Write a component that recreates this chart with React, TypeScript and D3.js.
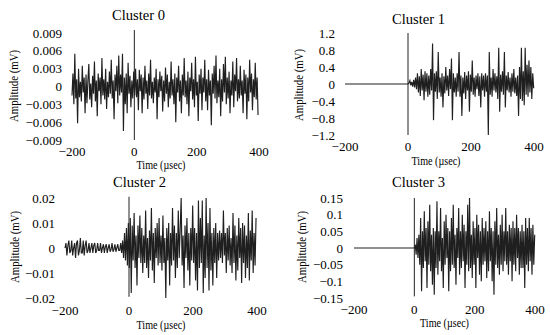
import React from 'react'
import * as d3 from 'd3'

// shared time axis
const timeTicks = [-200, 0, 200, 400]
const timeTickLabels = ['\u2212200', '0', '200', '400']

// Cluster 0: one sample every 3 µs from -200 µs, units of 1e-4 mV
const c0Start = -200
const c0Step = 3
const c0Unit = 1e-4
const c0Values = [
  -15, 22, -30, 55, -20, 12, -62, 30, -18, 8, -25, 35, -10, 15, -45, 20, -28, 10, 38, -22,
  5, -35, 18, -12, 42, -25, 10, -50, 22, -8, 15, -30, 48, -15, 12, -22, 30, -38, 8, -18,
  25, -12, 45, -20, 10, -55, 20, -8, 35, -28, 52, -15, 20, -10, 55, -75, 15, -30, 22, -45,
  40, -12, 18, -35, 10, -20, 25, -15, 30, -18, 12, -40, 28, -8, 20, -45, 15, -22, 35, -12,
  10, -38, 22, -15, 45, -20, 8, -28, 15, -10, 30, -55, 12, -18, 25, -8, 18, -42, 10, -25,
  32, -12, 20, -35, 8, -20, 42, -15, 12, -30, 22, -60, 15, -10, 35, -25, 10, -45, 20, -15,
  48, -18, 10, -30, 25, -50, 15, -8, 40, -22, 12, -35, 50, -15, 8, -58, 20, -12, 30, -40,
  15, -10, 45, -25, 12, -40, 28, -15, 10, -65, 22, -12, 35, -20, 52, -28, 10, -18, 30, -50,
  12, -25, 38, -10, 50, -30, 15, -20, 25, -45, 10, -15, 42, -35, 20, -8, 48, -25, 12, -20,
  35, -15, 10, -45, 28, -12, 20, -55, 15, -25, 45, -10, 22, -40, 12, -18, 40, -22, 15, -48,
]
const c0Ticks = [0.009, 0.006, 0.003, 0, -0.003, -0.006, -0.009]
const c0TickLabels = ['0.009', '0.006', '0.003', '0', '\u22120.003', '\u22120.006', '\u22120.009']
const c0Trigger = [0.0095, -0.009]

// Cluster 1: quiet before trigger, then burst sampled every 3 µs from 3 µs, units of 0.01 mV
const c1QuietTimes = [-200, -100, 0]
const c1QuietValues = [0, 0, 0]
const c1Start = 3
const c1Step = 3
const c1Unit = 0.01
const c1Values = [
  2, 8, -3, 5, -6, 10, -8, 15, -12, 25, -20, 18, -28, 35, -15, 22, -38, 30, -18, 25,
  -30, 20, -25, 35, -15, 95, -85, 25, -18, 30, -35, 75, -20, 15, -30, 25, -55, 18, -22, 40,
  -15, 20, -28, 35, -12, 60, -85, 25, -20, 15, -30, 25, -18, 75, -30, 20, -75, 15, -22, 28,
  -35, 20, -15, 30, -65, 22, -18, 55, -25, 15, -30, 20, -12, 25, -28, 18, -55, 25, -15, 20,
  -30, 25, -18, 20, -120, 75, -25, 15, -30, 35, -15, 25, -20, 18, -35, 85, -65, 22, -18, 30,
  -25, 75, -55, 20, -15, 28, -20, 15, -30, 25, -18, 35, -22, 15, -28, 20, -75, 40, -35, 85,
  -40, 30, -50, 85, -25, 45, -30, 55, -20, 40, -35, 25, -10,
]
const c1Ticks = [1.2, 0.8, 0.4, 0, -0.4, -0.8, -1.2]
const c1TickLabels = ['1.2', '0.8', '0.4', '0', '\u22120.4', '\u22120.8', '\u22121.2']
const c1Trigger = [1.2, -1.2]

// Cluster 2: one sample every 3 µs from -200 µs, units of 0.001 mV
const c2Start = -200
const c2Step = 3
const c2Unit = 0.001
const c2Values = [
  0, 2, -3, 1, 3, -2, -1, 3, -3, 0, 2, -4, 2, 3, -3, -1, 4, -2, -2, 3,
  -3, 1, 3, -2, -1, 2, -2, 0, 2, -2, 1, 2, -2, -1, 2, -1, -1, 2, -2, 0,
  1.5, -2, 0.5, 1.5, -2, 0, 1.5, -1.5, -0.5, 2, -1.5, -0.5, 1.5, -1.5, 0, 1.5, -1, -1, 2, -2,
  3, -4, 6, -5, 8, -7, 10, -8, 12, -18, 9, -5, 14, -8, 5, -15, 9, -4, 13, -6,
  8, -10, 5, -6, 15, -8, 4, -12, 7, -5, 16, -9, 6, -14, 8, -4, 10, -7, 12, -6,
  5, -9, 13, -6, 4, -20, 8, -5, 10, -15, 6, -7, 16, -5, 9, -12, 6, -8, 15, -4,
  8, 20, -7, 5, -16, 9, -4, 12, -9, 6, -15, 8, -5, 17, -6, 8, -13, 6, -17, 19,
  -8, 12, -6, 19, -18, 5, -12, 20, -8, 10, -17, 16, -9, 6, -15, 8, -6, 10, -12, 6,
  -5, 7, -4, 6, -6, 15, -3, 6, -10, 8, -5, 9, -7, 4, -10, 14, -6, 9, -13, 5,
  -9, 12, -4, 8, -14, 10, -6, 9, -12, 5, -8, 14, -13, 7, -5, 15, -10, 6, -7, 12,
]
const c2Ticks = [0.02, 0.01, 0, -0.01, -0.02]
const c2TickLabels = ['0.02', '0.01', '0', '\u22120.01', '\u22120.02']
const c2Trigger = [0.0205, -0.0195]

// Cluster 3: quiet before trigger, then burst every 3 µs from 3 µs, units of 0.01 mV
const c3QuietTimes = [-200, -100, 0]
const c3QuietValues = [0, 0, 0]
const c3Start = 3
const c3Step = 3
const c3Unit = 0.01
const c3Values = [
  1, -2, 3, -3, 4, -5, 9, -13, 5, -6, 11, -4, 6, -12, 8, -5, 13, -7, 4, -11,
  6, -14, 5, -6, 14, -8, 5, -4, 12, -7, 3, -12, 8, -5, 10, -3, 6, -13, 5, -7,
  9, -5, 13, -6, 4, -11, 6, -3, 12, -8, 5, -6, 10, -4, 7, -12, 5, -5, 13, -7,
  15, -6, 4, -9, 8, -5, 6, -12, 10, -3, 7, -8, 5, -10, 9, -5, 6, -4, 8, -9,
  5, -7, 11, -4, 6, -10, 5, -14, 8, -5, 12, -6, 4, -8, 7, -5, 10, -7, 5, -4,
  12, -5, 5, -8, 7, -4, 6, -10, 8, -5, 6, -7, 10, -3, 6, -8, 5, -6, 7, -6,
  5, -12, 9, -5, 6, -7, 9, -4, 6, -8, 7, -5, 4,
]
const c3Ticks = [0.15, 0.1, 0.05, 0, -0.05, -0.1, -0.15]
const c3TickLabels = ['0.15', '0.1', '0.05', '0', '\u22120.05', '\u22120.1', '\u22120.15']
const c3Trigger = [0.15, -0.145]

type Pt = [number, number]

function sampled(start: number, step: number, unit: number, values: number[]): Pt[] {
  return values.map((v, i) => [start + i * step, v * unit])
}
function quiet(times: number[], values: number[]): Pt[] {
  return times.map((t, i) => [t, values[i]])
}

const FONT = '"Liberation Serif", "Times New Roman", serif'

interface PanelProps {
  title: string
  points: Pt[]
  ticks: number[]
  tickLabels: string[]
  trigger: number[]
  x0: number; x1: number; yTop: number; yBottom: number
  tickRight: number; xTickY: number
  timeX: number; timeY: number
  ampX: number; ampY: number
  titleX: number; titleY: number
}

function Panel(p: PanelProps) {
  const x = d3.scaleLinear().domain([-200, 400]).range([p.x0, p.x1])
  const y = d3.scaleLinear()
    .domain([p.ticks[0], p.ticks[p.ticks.length - 1]])
    .range([p.yTop, p.yBottom])
  const line = d3.line<Pt>().x(d => x(d[0])).y(d => y(d[1]))
  return (
    <g fontFamily={FONT} fill="#000">
      <text x={p.titleX} y={p.titleY} fontSize={14.5} textAnchor="middle" textLength={53} lengthAdjust="spacingAndGlyphs">{p.title}</text>
      {p.ticks.map((t, i) => (
        <text key={i} x={p.tickRight} y={y(t) + 4.5} fontSize={13} textAnchor="end">{p.tickLabels[i]}</text>
      ))}
      {timeTicks.map((t, i) => (
        <text key={i} x={x(t)} y={p.xTickY} fontSize={13} textAnchor="middle">{timeTickLabels[i]}</text>
      ))}
      <text x={p.timeX} y={p.timeY} fontSize={12.5} textAnchor="middle" textLength={49} lengthAdjust="spacingAndGlyphs">Time (µsec)</text>
      <text transform={`translate(${p.ampX + 4},${p.ampY}) rotate(-90)`} fontSize={12.5} textAnchor="middle"
        textLength={72} lengthAdjust="spacingAndGlyphs">Amplitude (mV)</text>
      <path d={line(p.points) ?? ''} fill="none" stroke="#000" strokeWidth={1.15} strokeOpacity={0.88} />
      <line x1={x(0)} x2={x(0)} y1={y(p.trigger[0])} y2={y(p.trigger[1])} stroke="#222" strokeWidth={1} />
    </g>
  )
}

export default function App() {
  const s0 = sampled(c0Start, c0Step, c0Unit, c0Values)
  const s1 = quiet(c1QuietTimes, c1QuietValues).concat(sampled(c1Start, c1Step, c1Unit, c1Values))
  const s2 = sampled(c2Start, c2Step, c2Unit, c2Values)
  const s3 = quiet(c3QuietTimes, c3QuietValues).concat(sampled(c3Start, c3Step, c3Unit, c3Values))
  return (
    <svg width={550} height={335} style={{ position: 'absolute', left: 0, top: 0, background: '#fff' }}>
      <Panel title="Cluster 0" points={s0} ticks={c0Ticks} tickLabels={c0TickLabels} trigger={c0Trigger}
        x0={72} x1={259} yTop={33} yBottom={140} tickRight={62} xTickY={156}
        timeX={161} timeY={168.5} ampX={14} ampY={86} titleX={138.5} titleY={20} />
      <Panel title="Cluster 1" points={s1} ticks={c1Ticks} tickLabels={c1TickLabels} trigger={c1Trigger}
        x0={345} x1={534} yTop={33} yBottom={135} tickRight={335} xTickY={150.5}
        timeX={436} timeY={164.5} ampX={299} ampY={85} titleX={418.5} titleY={24} />
      <Panel title="Cluster 2" points={s2} ticks={c2Ticks} tickLabels={c2TickLabels} trigger={c2Trigger}
        x0={65} x1={257} yTop={198} yBottom={298} tickRight={55} xTickY={315}
        timeX={161} timeY={328.5} ampX={15} ampY={247} titleX={139.5} titleY={187} />
      <Panel title="Cluster 3" points={s3} ticks={c3Ticks} tickLabels={c3TickLabels} trigger={c3Trigger}
        x0={354} x1={535} yTop={198} yBottom={298} tickRight={343} xTickY={313.5}
        timeX={444.5} timeY={326.5} ampX={302} ampY={247} titleX={418.5} titleY={187} />
    </svg>
  )
}
